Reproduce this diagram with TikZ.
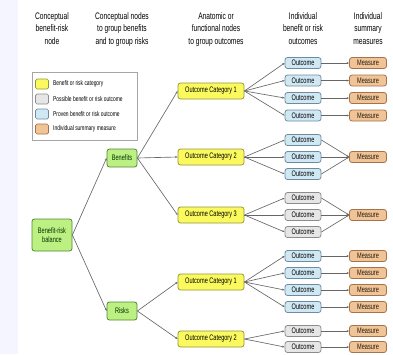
\documentclass[tikz,border=0pt]{standalone}
\usepackage{fontspec}
\setmainfont{Liberation Sans}
\newfontfamily\narrowfont[FakeStretch=0.7]{Liberation Sans}
\usepackage{xcolor}
\usepackage{tikz}
\usetikzlibrary{arrows.meta, positioning}

\definecolor{catfill}{RGB}{250,250,95}
\definecolor{catdraw}{RGB}{150,150,60}
\definecolor{grpfill}{RGB}{188,240,130}
\definecolor{grpdraw}{RGB}{80,135,55}
\definecolor{profill}{RGB}{208,232,244}
\definecolor{prodraw}{RGB}{110,140,160}
\definecolor{posfill}{RGB}{230,230,230}
\definecolor{posdraw}{RGB}{140,140,140}
\definecolor{msrfill}{RGB}{240,196,150}
\definecolor{msrdraw}{RGB}{165,115,75}

\begin{document}
\begin{tikzpicture}[x=1pt, y=-1pt,
  box/.style={
    draw, rounded corners=2.5pt, line width=0.8pt, inner sep=0pt,
    font=\narrowfont\fontsize{8}{9}\selectfont, align=center
  },
  group/.style={box, fill=grpfill, draw=grpdraw, text=black!80!green},
  category/.style={box, fill=catfill, draw=catdraw, minimum width=66pt, minimum height=16pt},
  proven/.style={box, fill=profill, draw=prodraw, minimum width=36pt, minimum height=11pt},
  possible/.style={box, fill=posfill, draw=posdraw, minimum width=36pt, minimum height=11pt},
  measure/.style={box, fill=msrfill, draw=msrdraw, minimum width=37pt, minimum height=11pt, text=black!80!brown},
  swatch/.style={draw, rounded corners=1.5pt, line width=0.7pt, minimum width=13pt, minimum height=10pt, inner sep=0pt},
  key/.style={font=\narrowfont\fontsize{7}{8}\selectfont, anchor=west, inner sep=0pt},
  header/.style={font=\narrowfont\fontsize{9.5}{12.5}\selectfont, align=center, anchor=north, text=black},
  link/.style={-{Stealth[length=2.5pt,width=2pt]}, line width=0.65pt, color=black!60}
]
\useasboundingbox (0,0) rectangle (393,354);
\fill[blue!4] (0,0) rectangle (18,354);

% --- Column headers ---
\node[header] (h1) at (52,9) {Conceptual\\benefit-risk\\node};
\node[header] (h2) at (122,9) {Conceptual nodes\\to group benefits\\and to group risks};
\node[header] (h3) at (216,9) {Anatomic or\\functional nodes\\to group outcomes};
\node[header] (h4) at (303,9) {Individual\\benefit or risk\\outcomes};
\node[header] (h5) at (368,9) {Individual\\summary\\measures};

% --- Legend ---
\node[draw=black!35, line width=0.6pt, minimum width=105pt, minimum height=68pt, inner sep=0pt] (legend) at (84.5,106) {};
\node[swatch, fill=catfill, draw=catdraw] (s1) at (42,84) {};
\node[swatch, fill=posfill, draw=posdraw] (s2) at (42,99) {};
\node[swatch, fill=profill, draw=prodraw] (s3) at (42,114) {};
\node[swatch, fill=msrfill, draw=msrdraw] (s4) at (42,129) {};
\node[key] (k1) at (53,84) {Benefit or risk category};
\node[key] (k2) at (53,99) {Possible benefit or risk outcome};
\node[key] (k3) at (53,114) {Proven benefit or risk outcome};
\node[key] (k4) at (53,129) {Individual summary measure};

% --- Conceptual nodes ---
\node[group, minimum width=40pt, minimum height=32pt] (bal) at (52,235) {Benefit-risk\\balance};
\node[group, minimum width=30pt, minimum height=18pt] (ben) at (122,158) {Benefits};
\node[group, minimum width=30pt, minimum height=18pt] (rsk) at (122,311) {Risks};

% --- Outcome categories ---
\node[category] (bc1) at (211,91) {Outcome Category 1};
\node[category] (bc2) at (211,157) {Outcome Category 2};
\node[category] (bc3) at (211,215) {Outcome Category 3};
\node[category] (rc1) at (211,282) {Outcome Category 1};
\node[category] (rc2) at (211,339) {Outcome Category 2};

% --- Individual outcomes ---
\node[proven] (b11) at (303,63) {Outcome};
\node[proven] (b12) at (303,80.5) {Outcome};
\node[proven] (b13) at (303,98) {Outcome};
\node[proven] (b14) at (303,115.5) {Outcome};
\node[proven] (b21) at (303,140) {Outcome};
\node[proven] (b22) at (303,157) {Outcome};
\node[proven] (b23) at (303,174) {Outcome};
\node[possible] (b31) at (303,198) {Outcome};
\node[possible] (b32) at (303,215) {Outcome};
\node[possible] (b33) at (303,232) {Outcome};
\node[proven] (r11) at (303,256) {Outcome};
\node[proven] (r12) at (303,273) {Outcome};
\node[proven] (r13) at (303,290) {Outcome};
\node[proven] (r14) at (303,307) {Outcome};
\node[possible] (r21) at (303,331) {Outcome};
\node[possible] (r22) at (303,347) {Outcome};

% --- Summary measures ---
\node[measure] (mb11) at (368,63) {Measure};
\node[measure] (mb12) at (368,80.5) {Measure};
\node[measure] (mb13) at (368,98) {Measure};
\node[measure] (mb14) at (368,115.5) {Measure};
\node[measure] (mb2) at (368,157) {Measure};
\node[measure] (mb3) at (368,215) {Measure};
\node[measure] (mr11) at (368,256) {Measure};
\node[measure] (mr12) at (368,273) {Measure};
\node[measure] (mr13) at (368,290) {Measure};
\node[measure] (mr14) at (368,307) {Measure};
\node[measure] (mr21) at (368,331) {Measure};
\node[measure] (mr22) at (368,347) {Measure};

% --- Tree links ---
\draw[link] (bal.east) -- (ben.west);
\draw[link] (bal.east) -- (rsk.west);
\draw[link] (ben.east) -- (bc1.west);
\draw[link] (ben.east) -- (bc2.west);
\draw[link] (ben.east) -- (bc3.west);
\draw[link] (rsk.east) -- (rc1.west);
\draw[link] (rsk.east) -- (rc2.west);

\draw[link] (bc1.east) -- (b11.west);
\draw[link] (bc1.east) -- (b12.west);
\draw[link] (bc1.east) -- (b13.west);
\draw[link] (bc1.east) -- (b14.west);
\draw[link] (bc2.east) -- (b21.west);
\draw[link] (bc2.east) -- (b22.west);
\draw[link] (bc2.east) -- (b23.west);
\draw[link] (bc3.east) -- (b31.west);
\draw[link] (bc3.east) -- (b32.west);
\draw[link] (bc3.east) -- (b33.west);
\draw[link] (rc1.east) -- (r11.west);
\draw[link] (rc1.east) -- (r12.west);
\draw[link] (rc1.east) -- (r13.west);
\draw[link] (rc1.east) -- (r14.west);
\draw[link] (rc2.east) -- (r21.west);
\draw[link] (rc2.east) -- (r22.west);

% --- Outcome to measure links ---
\draw[link] (b11) -- (mb11);
\draw[link] (b12) -- (mb12);
\draw[link] (b13) -- (mb13);
\draw[link] (b14) -- (mb14);
\draw[link] (b21.east) -- (mb2.west);
\draw[link] (b22.east) -- (mb2.west);
\draw[link] (b23.east) -- (mb2.west);
\draw[link] (b31.east) -- (mb3.west);
\draw[link] (b32.east) -- (mb3.west);
\draw[link] (b33.east) -- (mb3.west);
\draw[link] (r11) -- (mr11);
\draw[link] (r12) -- (mr12);
\draw[link] (r13) -- (mr13);
\draw[link] (r14) -- (mr14);
\draw[link] (r21) -- (mr21);
\draw[link] (r22) -- (mr22);

\end{tikzpicture}
\end{document}
